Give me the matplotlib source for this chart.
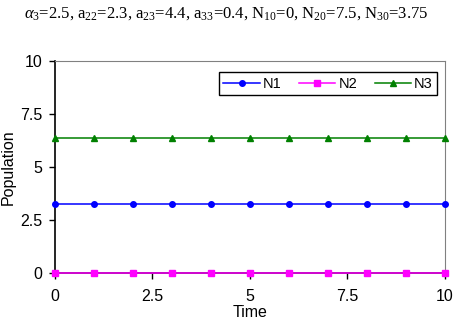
import numpy as np
import matplotlib
matplotlib.use('Agg')
import matplotlib.pyplot as plt

plt.rcParams['font.family'] = ['Liberation Sans', 'DejaVu Sans']
plt.rcParams['mathtext.fontset'] = 'custom'
plt.rcParams['mathtext.rm'] = 'Liberation Serif'
plt.rcParams['mathtext.it'] = 'Liberation Serif:italic'

time = [0, 1, 2, 3, 4, 5, 6, 7, 8, 9, 10]
n1 = [3.25] * 11
n2 = [0.0] * 11
n3 = [6.38] * 11
ticks = [0, 2.5, 5, 7.5, 10]
tick_labels = ['0', '2.5', '5', '7.5', '10']

fig = plt.figure(figsize=(4.53, 3.24), dpi=100)
ax = fig.add_axes([0.1214, 0.1565, 0.8606, 0.6562])

ax.plot(time, n1, '-o', color='#0000ff', ms=4, lw=1.1, label='N1', clip_on=False, zorder=3)
ax.plot(time, n2, '-s', color='#ff00ff', ms=4, lw=1.1, label='N2', clip_on=False, zorder=3)
ax.plot(time, n3, '-^', color='#008000', ms=4.5, lw=1.1, label='N3', clip_on=False, zorder=3)

ax.set_xlim(0, 10)
ax.set_ylim(0, 10)
ax.set_xticks(ticks)
ax.set_xticklabels(tick_labels)
ax.set_yticks(ticks)
ax.set_yticklabels(tick_labels)
ax.tick_params(labelsize=11.5, length=4, width=1, direction='out', pad=5)
ax.tick_params(axis='x', pad=7)

ax.spines['top'].set_color('#808080')
ax.spines['right'].set_color('#808080')
ax.spines['left'].set_linewidth(1.2)
ax.spines['bottom'].set_linewidth(1.2)

ax.set_xlabel('Time', fontsize=11.5, labelpad=1)
ax.set_ylabel('Population', fontsize=11.5, labelpad=3)

leg = ax.legend(loc='upper right', bbox_to_anchor=(0.98, 0.945), ncol=3, fontsize=10.5,
                fancybox=False, edgecolor='black', framealpha=1, handlelength=2.5,
                columnspacing=1.2, handletextpad=0.2, borderpad=0.3, borderaxespad=0)
leg.get_frame().set_linewidth(1.0)

title = (r'$\alpha_3$=2.5, a$_{22}$=2.3, a$_{23}$=4.4, a$_{33}$=0.4, '
         r'N$_{10}$=0, N$_{20}$=7.5, N$_{30}$=3.75')
fig.text(0.5, 0.958, title, ha='center', va='center', fontsize=12,
         family='Liberation Serif')

fig.savefig('out.png', dpi=100)
